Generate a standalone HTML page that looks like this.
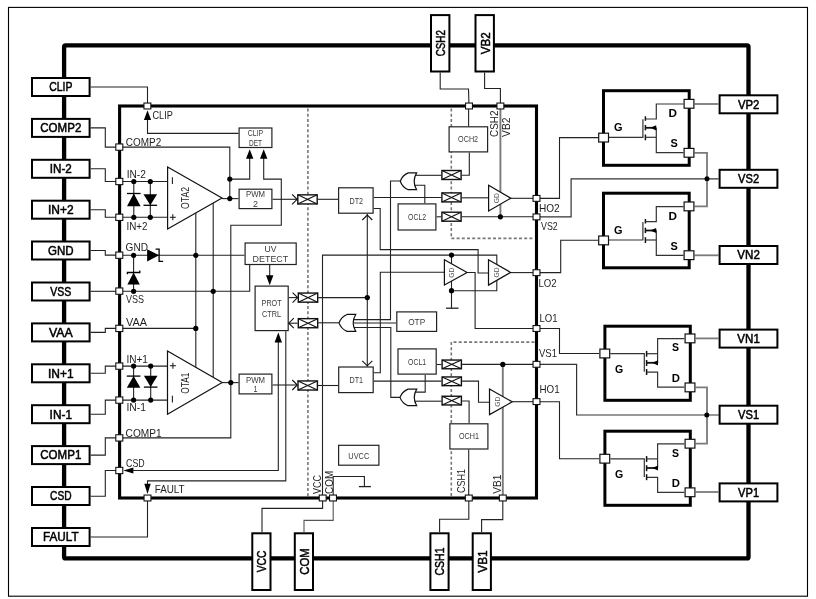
<!DOCTYPE html><html><head><meta charset="utf-8"><style>html,body{margin:0;padding:0;background:#fff;}svg{display:block;will-change:transform;}text{font-family:"Liberation Sans",sans-serif;}</style></head><body>
<svg width="816" height="599" viewBox="0 0 816 599">
<rect width="816" height="599" fill="#fff"/>
<rect x="8.5" y="7.4" width="799" height="588.8" fill="none" stroke="#000" stroke-width="1.1"/>
<rect x="64.1" y="45.4" width="684.4" height="513" fill="none" stroke="#000" stroke-width="4.3" rx="1.5"/>
<rect x="32.00" y="78.00" width="57.60" height="18.00" fill="#fff" stroke="#000" stroke-width="2" rx="0"/>
<text x="60.8" y="91.3" font-size="12.2" font-weight="normal" fill="#000" text-anchor="middle" textLength="23.2" lengthAdjust="spacingAndGlyphs" stroke="#000" stroke-width="0.5">CLIP</text>
<rect x="32.00" y="118.90" width="57.60" height="18.00" fill="#fff" stroke="#000" stroke-width="2" rx="0"/>
<text x="60.8" y="132.20000000000002" font-size="12.2" font-weight="normal" fill="#000" text-anchor="middle" textLength="41" lengthAdjust="spacingAndGlyphs" stroke="#000" stroke-width="0.5">COMP2</text>
<rect x="32.00" y="159.80" width="57.60" height="18.00" fill="#fff" stroke="#000" stroke-width="2" rx="0"/>
<text x="60.8" y="173.10000000000002" font-size="12.2" font-weight="normal" fill="#000" text-anchor="middle" textLength="22" lengthAdjust="spacingAndGlyphs" stroke="#000" stroke-width="0.5">IN-2</text>
<rect x="32.00" y="200.70" width="57.60" height="18.00" fill="#fff" stroke="#000" stroke-width="2" rx="0"/>
<text x="60.8" y="214.0" font-size="12.2" font-weight="normal" fill="#000" text-anchor="middle" textLength="25.6" lengthAdjust="spacingAndGlyphs" stroke="#000" stroke-width="0.5">IN+2</text>
<rect x="32.00" y="241.50" width="57.60" height="18.00" fill="#fff" stroke="#000" stroke-width="2" rx="0"/>
<text x="60.8" y="254.8" font-size="12.2" font-weight="normal" fill="#000" text-anchor="middle" textLength="25.6" lengthAdjust="spacingAndGlyphs" stroke="#000" stroke-width="0.5">GND</text>
<rect x="32.00" y="282.50" width="57.60" height="18.00" fill="#fff" stroke="#000" stroke-width="2" rx="0"/>
<text x="60.8" y="295.8" font-size="12.2" font-weight="normal" fill="#000" text-anchor="middle" textLength="21" lengthAdjust="spacingAndGlyphs" stroke="#000" stroke-width="0.5">VSS</text>
<rect x="32.00" y="323.40" width="57.60" height="18.00" fill="#fff" stroke="#000" stroke-width="2" rx="0"/>
<text x="60.8" y="336.7" font-size="12.2" font-weight="normal" fill="#000" text-anchor="middle" textLength="23.7" lengthAdjust="spacingAndGlyphs" stroke="#000" stroke-width="0.5">VAA</text>
<rect x="32.00" y="364.30" width="57.60" height="18.00" fill="#fff" stroke="#000" stroke-width="2" rx="0"/>
<text x="60.8" y="377.6" font-size="12.2" font-weight="normal" fill="#000" text-anchor="middle" textLength="25.6" lengthAdjust="spacingAndGlyphs" stroke="#000" stroke-width="0.5">IN+1</text>
<rect x="32.00" y="405.20" width="57.60" height="18.00" fill="#fff" stroke="#000" stroke-width="2" rx="0"/>
<text x="60.8" y="418.5" font-size="12.2" font-weight="normal" fill="#000" text-anchor="middle" textLength="22.4" lengthAdjust="spacingAndGlyphs" stroke="#000" stroke-width="0.5">IN-1</text>
<rect x="32.00" y="446.10" width="57.60" height="18.00" fill="#fff" stroke="#000" stroke-width="2" rx="0"/>
<text x="60.8" y="459.40000000000003" font-size="12.2" font-weight="normal" fill="#000" text-anchor="middle" textLength="41" lengthAdjust="spacingAndGlyphs" stroke="#000" stroke-width="0.5">COMP1</text>
<rect x="32.00" y="487.00" width="57.60" height="18.00" fill="#fff" stroke="#000" stroke-width="2" rx="0"/>
<text x="60.8" y="500.3" font-size="12.2" font-weight="normal" fill="#000" text-anchor="middle" textLength="21.5" lengthAdjust="spacingAndGlyphs" stroke="#000" stroke-width="0.5">CSD</text>
<rect x="32.00" y="528.00" width="57.60" height="18.00" fill="#fff" stroke="#000" stroke-width="2" rx="0"/>
<text x="60.8" y="541.3" font-size="12.2" font-weight="normal" fill="#000" text-anchor="middle" textLength="35.7" lengthAdjust="spacingAndGlyphs" stroke="#000" stroke-width="0.5">FAULT</text>
<rect x="719.60" y="95.30" width="57.80" height="18.00" fill="#fff" stroke="#000" stroke-width="2" rx="0"/>
<text x="748.6" y="108.6" font-size="12.2" font-weight="normal" fill="#000" text-anchor="middle" textLength="21.4" lengthAdjust="spacingAndGlyphs" stroke="#000" stroke-width="0.5">VP2</text>
<rect x="719.60" y="169.80" width="57.80" height="18.00" fill="#fff" stroke="#000" stroke-width="2" rx="0"/>
<text x="748.6" y="183.10000000000002" font-size="12.2" font-weight="normal" fill="#000" text-anchor="middle" textLength="21" lengthAdjust="spacingAndGlyphs" stroke="#000" stroke-width="0.5">VS2</text>
<rect x="719.60" y="246.00" width="57.80" height="18.00" fill="#fff" stroke="#000" stroke-width="2" rx="0"/>
<text x="748.6" y="259.3" font-size="12.2" font-weight="normal" fill="#000" text-anchor="middle" textLength="22.5" lengthAdjust="spacingAndGlyphs" stroke="#000" stroke-width="0.5">VN2</text>
<rect x="719.60" y="329.60" width="57.80" height="18.00" fill="#fff" stroke="#000" stroke-width="2" rx="0"/>
<text x="748.6" y="342.90000000000003" font-size="12.2" font-weight="normal" fill="#000" text-anchor="middle" textLength="22.5" lengthAdjust="spacingAndGlyphs" stroke="#000" stroke-width="0.5">VN1</text>
<rect x="719.60" y="405.70" width="57.80" height="18.00" fill="#fff" stroke="#000" stroke-width="2" rx="0"/>
<text x="748.6" y="419.0" font-size="12.2" font-weight="normal" fill="#000" text-anchor="middle" textLength="21" lengthAdjust="spacingAndGlyphs" stroke="#000" stroke-width="0.5">VS1</text>
<rect x="719.60" y="483.40" width="57.80" height="18.00" fill="#fff" stroke="#000" stroke-width="2" rx="0"/>
<text x="748.6" y="496.7" font-size="12.2" font-weight="normal" fill="#000" text-anchor="middle" textLength="21" lengthAdjust="spacingAndGlyphs" stroke="#000" stroke-width="0.5">VP1</text>
<rect x="431.00" y="15.10" width="18.40" height="56.40" fill="#fff" stroke="#000" stroke-width="2" rx="0"/>
<text transform="translate(445.09999999999997,43.2) rotate(-90)" font-size="13.2" font-weight="normal" fill="#000" text-anchor="middle" textLength="26.2" lengthAdjust="spacingAndGlyphs" stroke="#000" stroke-width="0.5">CSH2</text>
<rect x="475.50" y="15.10" width="18.40" height="56.40" fill="#fff" stroke="#000" stroke-width="2" rx="0"/>
<text transform="translate(489.59999999999997,43.2) rotate(-90)" font-size="13.2" font-weight="normal" fill="#000" text-anchor="middle" textLength="22" lengthAdjust="spacingAndGlyphs" stroke="#000" stroke-width="0.5">VB2</text>
<rect x="252.30" y="533.30" width="18.20" height="56.70" fill="#fff" stroke="#000" stroke-width="2" rx="0"/>
<text transform="translate(266.29999999999995,561.5) rotate(-90)" font-size="13.2" font-weight="normal" fill="#000" text-anchor="middle" textLength="21.7" lengthAdjust="spacingAndGlyphs" stroke="#000" stroke-width="0.5">VCC</text>
<rect x="294.80" y="533.30" width="18.20" height="56.70" fill="#fff" stroke="#000" stroke-width="2" rx="0"/>
<text transform="translate(308.79999999999995,561.5) rotate(-90)" font-size="13.2" font-weight="normal" fill="#000" text-anchor="middle" textLength="26.4" lengthAdjust="spacingAndGlyphs" stroke="#000" stroke-width="0.5">COM</text>
<rect x="430.40" y="533.30" width="18.20" height="56.70" fill="#fff" stroke="#000" stroke-width="2" rx="0"/>
<text transform="translate(444.4,561.5) rotate(-90)" font-size="13.2" font-weight="normal" fill="#000" text-anchor="middle" textLength="28" lengthAdjust="spacingAndGlyphs" stroke="#000" stroke-width="0.5">CSH1</text>
<rect x="472.70" y="533.30" width="18.20" height="56.70" fill="#fff" stroke="#000" stroke-width="2" rx="0"/>
<text transform="translate(486.7,561.5) rotate(-90)" font-size="13.2" font-weight="normal" fill="#000" text-anchor="middle" textLength="22.3" lengthAdjust="spacingAndGlyphs" stroke="#000" stroke-width="0.5">VB1</text>
<path d="M90.6,87 L147.5,87 L147.5,106" fill="none" stroke="#222" stroke-width="1.1" />
<path d="M90.6,127.9 L105.3,127.9 L105.3,147.1 L119.5,147.1" fill="none" stroke="#222" stroke-width="1.1" />
<path d="M90.6,168.8 L105.3,168.8 L105.3,181.5 L119.5,181.5" fill="none" stroke="#222" stroke-width="1.1" />
<path d="M90.6,209.7 L105.3,209.7 L105.3,217.3 L119.5,217.3" fill="none" stroke="#222" stroke-width="1.1" />
<path d="M90.6,250.5 L105.3,250.5 L105.3,255.1 L119.5,255.1" fill="none" stroke="#222" stroke-width="1.1" />
<path d="M90.6,291.3 L119.5,291.3" fill="none" stroke="#222" stroke-width="1.1" />
<path d="M90.6,332.4 L105.3,332.4 L105.3,328.4 L119.5,328.4" fill="none" stroke="#222" stroke-width="1.1" />
<path d="M90.6,373.3 L105.3,373.3 L105.3,366.1 L119.5,366.1" fill="none" stroke="#222" stroke-width="1.1" />
<path d="M90.6,414.2 L105.3,414.2 L105.3,400.1 L119.5,400.1" fill="none" stroke="#222" stroke-width="1.1" />
<path d="M90.6,455.1 L105.3,455.1 L105.3,437.9 L119.5,437.9" fill="none" stroke="#222" stroke-width="1.1" />
<path d="M90.6,496.2 L105.3,496.2 L105.3,470.5 L119.5,470.5" fill="none" stroke="#222" stroke-width="1.1" />
<path d="M90.6,537 L147.5,537 L147.5,498" fill="none" stroke="#222" stroke-width="1.1" />
<path d="M440.2,72.5 L440.2,89 L468.5,89 L469,106" fill="none" stroke="#222" stroke-width="1.1" />
<path d="M484.6,72.5 L484.6,88.5 L500.4,88.5 L500.4,106" fill="none" stroke="#222" stroke-width="1.1" />
<path d="M322.6,498 L322.6,508.4 L262,508.4 L262,532.3" fill="none" stroke="#222" stroke-width="1.1" />
<path d="M333.2,498 L333.2,520.4 L304,520.4 L304,532.3" fill="none" stroke="#555" stroke-width="1.1" />
<path d="M468.8,498 L468.8,519.3 L439.6,519.3 L439.6,532.3" fill="none" stroke="#222" stroke-width="1.1" />
<path d="M502.8,498 L502.8,519.6 L481.6,519.6 L481.6,532.3" fill="none" stroke="#222" stroke-width="1.1" />
<path d="M307.9,108.5 L307.9,496.5" fill="none" stroke="#777" stroke-width="1.6" stroke-dasharray="3 2.2"/>
<path d="M451.3,108.5 L451.3,238.4 L534.5,238.4" fill="none" stroke="#777" stroke-width="1.6" stroke-dasharray="3 2.2"/>
<path d="M534.5,342.1 L451.3,342.1 L451.3,496.5" fill="none" stroke="#777" stroke-width="1.6" stroke-dasharray="3 2.2"/>
<rect x="119.6" y="106" width="416.9" height="392" fill="none" stroke="#000" stroke-width="3.1"/>
<path d="M147.5,118 L147.5,133.4 L238.5,133.4" fill="none" stroke="#222" stroke-width="1.1" />
<path d="M147.5,110.3 L143.9,120 L151.1,120 Z" fill="#000"/>
<path d="M119.5,147.1 L229.8,147.1 L229.8,198.6" fill="none" stroke="#222" stroke-width="1.1" />
<path d="M229.8,179.1 L249.7,179.1 L249.7,157" fill="none" stroke="#222" stroke-width="1.1" />
<path d="M249.7,149.2 L246,158.7 L253.4,158.7 Z" fill="#000"/>
<path d="M119.5,437.9 L230.8,437.9 L230.8,225.2 L281.3,225.2 L281.3,179.1 L263.7,179.1 L263.7,157" fill="none" stroke="#222" stroke-width="1.1" />
<path d="M263.7,149.2 L260,158.7 L267.4,158.7 Z" fill="#000"/>
<path d="M119.5,181.5 L167.6,181.5" fill="none" stroke="#222" stroke-width="1.1" />
<path d="M119.5,217.3 L167.6,217.3" fill="none" stroke="#222" stroke-width="1.1" />
<path d="M133.8,181.5 L133.8,217.3" fill="none" stroke="#222" stroke-width="1.1" />
<path d="M150.3,181.5 L150.3,217.3" fill="none" stroke="#222" stroke-width="1.1" />
<path d="M222,198.6 L238.5,198.6" fill="none" stroke="#222" stroke-width="1.1" />
<path d="M195.8,205 L195.8,372" fill="none" stroke="#222" stroke-width="1.1" />
<path d="M213.2,198 L213.2,382" fill="none" stroke="#222" stroke-width="1.1" />
<path d="M119.5,255.3 L244.5,255.3" fill="none" stroke="#222" stroke-width="1.1" />
<path d="M119.5,291.3 L249.7,291.3 L249.7,265.1" fill="none" stroke="#222" stroke-width="1.1" />
<path d="M133.6,255.3 L133.6,291.3" fill="none" stroke="#222" stroke-width="1.1" />
<path d="M119.5,328.4 L195.8,328.4" fill="none" stroke="#222" stroke-width="1.1" />
<path d="M119.5,366.1 L167.5,366.1" fill="none" stroke="#222" stroke-width="1.1" />
<path d="M119.5,400.1 L167.5,400.1" fill="none" stroke="#222" stroke-width="1.1" />
<path d="M133.6,366.1 L133.6,400.1" fill="none" stroke="#222" stroke-width="1.1" />
<path d="M150.7,366.1 L150.7,400.1" fill="none" stroke="#222" stroke-width="1.1" />
<path d="M222.2,382.6 L238.5,382.6" fill="none" stroke="#222" stroke-width="1.1" />
<path d="M272.5,385 L297.1,385" fill="none" stroke="#222" stroke-width="1.1" />
<path d="M317.9,385.5 L338.1,385.5" fill="none" stroke="#222" stroke-width="1.1" />
<path d="M272.5,199.3 L297.1,199.3" fill="none" stroke="#222" stroke-width="1.1" />
<path d="M317.9,199.3 L338,199.3" fill="none" stroke="#222" stroke-width="1.1" />
<path d="M131,470.5 L278.3,470.5 L278.3,340" fill="none" stroke="#222" stroke-width="1.1" />
<path d="M123.3,470.5 L133.4,467.4 L133.4,473.6 Z" fill="#000"/>
<path d="M278.3,332.6 L274.6,342.4 L282,342.4 Z" fill="#000"/>
<path d="M285.8,331.2 L285.8,480.9 L147.5,480.9 L147.5,486" fill="none" stroke="#222" stroke-width="1.1" />
<path d="M147.5,494 L144.3,483.7 L150.7,483.7 Z" fill="#000"/>
<path d="M269.7,265.1 L269.7,277" fill="none" stroke="#222" stroke-width="1.1" />
<path d="M269.7,285.3 L266,275.2 L273.4,275.2 Z" fill="#000"/>
<path d="M288.8,297.6 L297.6,297.6" fill="none" stroke="#222" stroke-width="1.1" />
<path d="M318.2,297.6 L367.3,297.6" fill="none" stroke="#222" stroke-width="1.1" />
<path d="M288.8,323.2 L297.6,323.2" fill="none" stroke="#222" stroke-width="1.1" />
<path d="M318.2,322.8 L339,322.8" fill="none" stroke="#222" stroke-width="1.1" />
<path d="M367.3,213.8 L367.3,366.4" fill="none" stroke="#222" stroke-width="1.1" />
<path d="M373.7,197.5 L441.2,197.5" fill="none" stroke="#222" stroke-width="1.1" />
<path d="M373.7,208.5 L380.2,208.5 L380.2,249.6 L478.1,249.6 L478.1,273 L488.5,273" fill="none" stroke="#222" stroke-width="1.1" />
<path d="M373.6,372.7 L380.3,372.7 L380.3,272.3 L444.4,272.3" fill="none" stroke="#222" stroke-width="1.1" />
<path d="M373.8,381.1 L441.4,381.1" fill="none" stroke="#222" stroke-width="1.1" />
<path d="M322.5,498 L322.5,255.1 L496.8,255.1 L496.8,270" fill="none" stroke="#222" stroke-width="1.1" />
<path d="M451.5,255.1 L451.5,270" fill="none" stroke="#222" stroke-width="1.1" />
<path d="M333.2,498 L333.2,476.5 L364.4,476.5 L364.4,486.6" fill="none" stroke="#222" stroke-width="1.1" />
<path d="M358.9,486.6 L370.9,486.6" fill="none" stroke="#222" stroke-width="1.3" />
<path d="M451.5,275 L451.5,308.2" fill="none" stroke="#222" stroke-width="1.1" />
<path d="M446,308.2 L458.5,308.2" fill="none" stroke="#222" stroke-width="1.3" />
<path d="M451.5,290.7 L496.8,290.7 L496.8,275" fill="none" stroke="#222" stroke-width="1.1" />
<path d="M467.1,272.5 L475.1,272.5 L475.1,328.5 L536.5,328.5" fill="none" stroke="#222" stroke-width="1.1" />
<path d="M510.6,272.6 L536.5,272.6" fill="none" stroke="#222" stroke-width="1.1" />
<path d="M468.6,106 L468.6,126.2" fill="none" stroke="#222" stroke-width="1.1" />
<path d="M469.3,152.5 L469.3,175.2 L461.8,175.2" fill="none" stroke="#222" stroke-width="1.1" />
<path d="M441.2,175.3 L415,175.3" fill="none" stroke="#222" stroke-width="1.1" />
<path d="M414,185.3 L424.8,185.3 L424.8,203.3" fill="none" stroke="#222" stroke-width="1.1" />
<path d="M400.6,181 L390.5,181 L390.5,319.6 L353.5,319.6" fill="none" stroke="#222" stroke-width="1.1" />
<path d="M436.5,216.8 L441.2,216.8" fill="none" stroke="#222" stroke-width="1.1" />
<path d="M461.8,216.8 L536.5,216.8" fill="none" stroke="#222" stroke-width="1.1" />
<path d="M461.8,197.8 L488.6,197.8" fill="none" stroke="#222" stroke-width="1.1" />
<path d="M510.8,198.3 L536.5,198.3" fill="none" stroke="#222" stroke-width="1.1" />
<path d="M500.4,106 L500.4,216.8" fill="none" stroke="#7a7a7a" stroke-width="1.9" />
<path d="M396.2,323 L353.5,323" fill="none" stroke="#222" stroke-width="1.1" />
<path d="M353.5,327.5 L390.8,327.5 L390.8,397.4 L400,397.4" fill="none" stroke="#222" stroke-width="1.1" />
<path d="M425.2,374.7 L425.2,392.1 L414.5,392.1" fill="none" stroke="#222" stroke-width="1.1" />
<path d="M436.8,364.5 L441.4,364.5" fill="none" stroke="#222" stroke-width="1.1" />
<path d="M462.1,364.4 L536.5,364.4" fill="none" stroke="#222" stroke-width="1.1" />
<path d="M502.8,364.4 L502.8,498" fill="none" stroke="#7a7a7a" stroke-width="1.9" />
<path d="M462.1,381.1 L478.5,381.1 L478.5,402.2 L489.5,402.2" fill="none" stroke="#222" stroke-width="1.1" />
<path d="M512.2,401.7 L536.5,401.7" fill="none" stroke="#222" stroke-width="1.1" />
<path d="M414.1,401.2 L441.4,401.2" fill="none" stroke="#222" stroke-width="1.1" />
<path d="M462.1,401 L469.1,401 L469.1,423.2" fill="none" stroke="#222" stroke-width="1.1" />
<path d="M468.7,449.6 L468.7,498" fill="none" stroke="#222" stroke-width="1.1" />
<path d="M536.5,198.4 L559.5,198.4 L559.5,137.6 L598,137.6" fill="none" stroke="#222" stroke-width="1.1" />
<path d="M536.5,216.8 L571.1,216.8 L571.1,178.9 L718.6,178.9" fill="none" stroke="#333" stroke-width="1.2" />
<path d="M536.5,272.6 L560.7,272.6 L560.7,240.3 L598,240.3" fill="none" stroke="#222" stroke-width="1.1" />
<path d="M536.5,328.5 L559.5,328.5 L559.5,353.5 L599.2,353.5" fill="none" stroke="#222" stroke-width="1.1" />
<path d="M536.5,364.4 L576.6,364.4 L576.6,415 L719,415" fill="none" stroke="#333" stroke-width="1.2" />
<path d="M536.5,401.7 L559.5,401.7 L559.5,458.7 L599.2,458.7" fill="none" stroke="#222" stroke-width="1.1" />
<path d="M694.5,104 L718.6,104" fill="none" stroke="#7a7a7a" stroke-width="1.8" />
<path d="M694.5,152.8 L707,152.8 L707,178.8" fill="none" stroke="#7a7a7a" stroke-width="1.8" />
<path d="M694.5,206.4 L707,206.4 L707,178.8" fill="none" stroke="#7a7a7a" stroke-width="1.8" />
<path d="M694.5,255.3 L719,255.3" fill="none" stroke="#7a7a7a" stroke-width="1.8" />
<path d="M695.7,338.4 L719,338.4" fill="none" stroke="#7a7a7a" stroke-width="1.8" />
<path d="M695.7,387.4 L707,387.4 L707,415" fill="none" stroke="#7a7a7a" stroke-width="1.8" />
<path d="M695.7,443.7 L707,443.7 L707,415" fill="none" stroke="#7a7a7a" stroke-width="1.8" />
<path d="M695.7,492 L719,492" fill="none" stroke="#7a7a7a" stroke-width="1.8" />
<circle cx="707" cy="178.8" r="2.5" fill="#000"/>
<circle cx="706.8" cy="415" r="2.5" fill="#000"/>
<rect x="239.10" y="128.00" width="32.80" height="19.50" fill="#fff" stroke="#222" stroke-width="1.2" rx="0"/>
<rect x="239.10" y="189.20" width="32.80" height="19.40" fill="#fff" stroke="#222" stroke-width="1.2" rx="0"/>
<rect x="245.10" y="243.00" width="51.10" height="21.50" fill="#fff" stroke="#222" stroke-width="1.2" rx="0"/>
<rect x="255.10" y="286.10" width="33.10" height="44.50" fill="#fff" stroke="#222" stroke-width="1.2" rx="0"/>
<rect x="239.10" y="374.10" width="32.80" height="19.80" fill="#fff" stroke="#222" stroke-width="1.2" rx="0"/>
<rect x="338.60" y="187.80" width="34.50" height="25.40" fill="#fff" stroke="#222" stroke-width="1.2" rx="0"/>
<rect x="338.70" y="367.00" width="34.50" height="25.60" fill="#fff" stroke="#222" stroke-width="1.2" rx="0"/>
<rect x="338.60" y="445.30" width="40.30" height="19.90" fill="#fff" stroke="#222" stroke-width="1.2" rx="0"/>
<rect x="449.10" y="126.80" width="38.50" height="25.10" fill="#fff" stroke="#222" stroke-width="1.2" rx="0"/>
<rect x="398.10" y="203.90" width="37.80" height="26.10" fill="#fff" stroke="#222" stroke-width="1.2" rx="0"/>
<rect x="396.80" y="311.90" width="39.80" height="19.50" fill="#fff" stroke="#222" stroke-width="1.2" rx="0"/>
<rect x="398.00" y="348.90" width="38.20" height="25.20" fill="#fff" stroke="#222" stroke-width="1.2" rx="0"/>
<rect x="449.90" y="423.80" width="38.00" height="25.20" fill="#fff" stroke="#222" stroke-width="1.2" rx="0"/>
<rect x="297.80" y="194.85" width="19.40" height="9.10" fill="#fff" stroke="#111" stroke-width="1.4" rx="0"/>
<path d="M297.8,194.85 L317.20000000000005,203.95000000000002 M297.8,203.95000000000002 L317.20000000000005,194.85" stroke="#111" stroke-width="1.1"/>
<rect x="298.30" y="293.05" width="19.40" height="9.10" fill="#fff" stroke="#111" stroke-width="1.4" rx="0"/>
<path d="M298.3,293.05 L317.70000000000005,302.15000000000003 M298.3,302.15000000000003 L317.70000000000005,293.05" stroke="#111" stroke-width="1.1"/>
<rect x="298.30" y="318.65" width="19.40" height="9.10" fill="#fff" stroke="#111" stroke-width="1.4" rx="0"/>
<path d="M298.3,318.65 L317.70000000000005,327.75 M298.3,327.75 L317.70000000000005,318.65" stroke="#111" stroke-width="1.1"/>
<rect x="298.00" y="380.95" width="19.40" height="9.10" fill="#fff" stroke="#111" stroke-width="1.4" rx="0"/>
<path d="M298.0,380.95 L317.40000000000003,390.05 M298.0,390.05 L317.40000000000003,380.95" stroke="#111" stroke-width="1.1"/>
<rect x="441.90" y="170.50" width="19.20" height="9.00" fill="#fff" stroke="#111" stroke-width="1.4" rx="0"/>
<path d="M441.9,170.5 L461.1,179.5 M441.9,179.5 L461.1,170.5" stroke="#111" stroke-width="1.1"/>
<rect x="441.90" y="192.90" width="19.20" height="9.00" fill="#fff" stroke="#111" stroke-width="1.4" rx="0"/>
<path d="M441.9,192.9 L461.1,201.9 M441.9,201.9 L461.1,192.9" stroke="#111" stroke-width="1.1"/>
<rect x="441.90" y="212.20" width="19.20" height="9.00" fill="#fff" stroke="#111" stroke-width="1.4" rx="0"/>
<path d="M441.9,212.2 L461.1,221.2 M441.9,221.2 L461.1,212.2" stroke="#111" stroke-width="1.1"/>
<rect x="442.10" y="360.05" width="19.30" height="8.70" fill="#fff" stroke="#111" stroke-width="1.4" rx="0"/>
<path d="M442.09999999999997,360.04999999999995 L461.4,368.75 M442.09999999999997,368.75 L461.4,360.04999999999995" stroke="#111" stroke-width="1.1"/>
<rect x="442.10" y="376.95" width="19.30" height="8.70" fill="#fff" stroke="#111" stroke-width="1.4" rx="0"/>
<path d="M442.09999999999997,376.95 L461.4,385.65000000000003 M442.09999999999997,385.65000000000003 L461.4,376.95" stroke="#111" stroke-width="1.1"/>
<rect x="442.10" y="396.25" width="19.30" height="8.70" fill="#fff" stroke="#111" stroke-width="1.4" rx="0"/>
<path d="M442.09999999999997,396.25 L461.4,404.95000000000005 M442.09999999999997,404.95000000000005 L461.4,396.25" stroke="#111" stroke-width="1.1"/>
<path d="M292.1,194.3 L297.1,199.3 L292.1,204.3" fill="none" stroke="#111" stroke-width="1.1"/>
<path d="M292.6,292.6 L297.6,297.6 L292.6,302.6" fill="none" stroke="#111" stroke-width="1.1"/>
<path d="M293.8,318.2 L288.8,323.2 L293.8,328.2" fill="none" stroke="#111" stroke-width="1.1"/>
<path d="M292.3,380 L297.3,385 L292.3,390" fill="none" stroke="#111" stroke-width="1.1"/>
<path d="M362.3,220.0 L367.3,215.0 L372.3,220.0" fill="none" stroke="#111" stroke-width="1.1"/>
<path d="M362.3,360.8 L367.3,365.8 L372.3,360.8" fill="none" stroke="#111" stroke-width="1.1"/>
<path d="M416.6,172.9 L408.124,172.9 Q402.25600000000003,175.42000000000002 400.3,181.3 Q402.25600000000003,187.18 408.124,189.70000000000002 L416.6,189.70000000000002 Q411.71000000000004,181.3 416.6,172.9 Z" fill="#fff" stroke="#111" stroke-width="1.2"/>
<path d="M355.7,314.45 L347.016,314.45 Q341.004,316.985 339,322.9 Q341.004,328.81499999999994 347.016,331.34999999999997 L355.7,331.34999999999997 Q350.69,322.9 355.7,314.45 Z" fill="#fff" stroke="#111" stroke-width="1.2"/>
<path d="M416.7,389.09999999999997 L408.016,389.09999999999997 Q402.004,391.59 400,397.4 Q402.004,403.21 408.016,405.7 L416.7,405.7 Q411.69,397.4 416.7,389.09999999999997 Z" fill="#fff" stroke="#111" stroke-width="1.2"/>
<path d="M167.6,167 L222,198.0 L167.6,229 Z" fill="#fff" stroke="#111" stroke-width="1.2"/>
<path d="M167.5,351 L222.2,382.6 L167.5,414.2 Z" fill="#fff" stroke="#111" stroke-width="1.2"/>
<path d="M488.6,185.3 L510.8,198.15 L488.6,211 Z" fill="#fff" stroke="#111" stroke-width="1.2"/>
<path d="M444.4,259.7 L467.1,272.4 L444.4,285.1 Z" fill="#fff" stroke="#111" stroke-width="1.2"/>
<path d="M488.5,259.7 L510.6,272.4 L488.5,285.1 Z" fill="#fff" stroke="#111" stroke-width="1.2"/>
<path d="M489.5,389.1 L512.2,401.85 L489.5,414.6 Z" fill="#fff" stroke="#111" stroke-width="1.2"/>
<path d="M133.8,193.5 L127.00000000000001,206.2 L140.60000000000002,206.2 Z" fill="#000"/>
<path d="M127.00000000000001,193.5 L140.60000000000002,193.5" fill="none" stroke="#000" stroke-width="1.3" />
<path d="M150.3,205.3 L143.5,194.3 L157.10000000000002,194.3 Z" fill="#000"/>
<path d="M143.5,205.3 L157.10000000000002,205.3" fill="none" stroke="#000" stroke-width="1.3" />
<path d="M133.6,376.1 L126.8,387.7 L140.4,387.7 Z" fill="#000"/>
<path d="M126.8,376.1 L140.4,376.1" fill="none" stroke="#000" stroke-width="1.3" />
<path d="M150.7,387.1 L143.89999999999998,375.7 L157.5,375.7 Z" fill="#000"/>
<path d="M143.89999999999998,387.1 L157.5,387.1" fill="none" stroke="#000" stroke-width="1.3" />
<path d="M133.6,272.5 L127.4,284.6 L139.8,284.6 Z" fill="#000"/>
<path d="M127.4,274.3 L127.4,272.5 L139.8,272.5 L139.8,270.5" fill="none" stroke="#000" stroke-width="1.3" />
<path d="M159.1,255.3 L147.1,249.2 L147.1,261.4 Z" fill="#000"/>
<path d="M155.6,249.2 L159.1,249.2 L159.1,261.4 L163.1,261.4" fill="none" stroke="#000" stroke-width="1.3" />
<circle cx="133.8" cy="181.5" r="2.6" fill="#000"/>
<circle cx="150.3" cy="181.5" r="2.6" fill="#000"/>
<circle cx="133.8" cy="217.3" r="2.6" fill="#000"/>
<circle cx="150.3" cy="217.3" r="2.6" fill="#000"/>
<circle cx="229.8" cy="179.1" r="2.6" fill="#000"/>
<circle cx="229.8" cy="198.6" r="2.6" fill="#000"/>
<circle cx="133.6" cy="255.3" r="2.6" fill="#000"/>
<circle cx="195.8" cy="255.3" r="2.6" fill="#000"/>
<circle cx="133.6" cy="291.3" r="2.6" fill="#000"/>
<circle cx="213.2" cy="291.3" r="2.6" fill="#000"/>
<circle cx="195.8" cy="328.4" r="2.6" fill="#000"/>
<circle cx="133.6" cy="366.1" r="2.6" fill="#000"/>
<circle cx="150.7" cy="366.1" r="2.6" fill="#000"/>
<circle cx="133.6" cy="400.1" r="2.6" fill="#000"/>
<circle cx="150.7" cy="400.1" r="2.6" fill="#000"/>
<circle cx="230.8" cy="382.6" r="2.6" fill="#000"/>
<circle cx="367.3" cy="297.6" r="2.6" fill="#000"/>
<circle cx="451.5" cy="255.1" r="2.6" fill="#000"/>
<circle cx="451.5" cy="290.7" r="2.6" fill="#000"/>
<circle cx="500.4" cy="216.8" r="2.6" fill="#000"/>
<circle cx="502.8" cy="364.4" r="2.6" fill="#000"/>
<rect x="603.50" y="90.70" width="85.70" height="74.60" fill="none" stroke="#000" stroke-width="3" rx="0"/>
<path d="M609,137.3 L642.9,137.3 L642.9,119.3" fill="none" stroke="#333" stroke-width="1.2" />
<path d="M645.4,116.3 L645.4,120.8" fill="none" stroke="#111" stroke-width="1.5" />
<path d="M645.4,125 L645.4,130.4" fill="none" stroke="#111" stroke-width="1.5" />
<path d="M645.4,134.5 L645.4,140.3" fill="none" stroke="#111" stroke-width="1.5" />
<path d="M645.4,119 L656.3,119 L656.3,104 L683.5,104" fill="none" stroke="#333" stroke-width="1.2" />
<path d="M645.4,127.8 L656.3,127.8" fill="none" stroke="#111" stroke-width="1.8" />
<path d="M645.4,137.3 L656.3,137.3" fill="none" stroke="#333" stroke-width="1.2" />
<path d="M656.3,127.8 L656.3,152.6 L683.5,152.6" fill="none" stroke="#333" stroke-width="1.2" />
<path d="M650.3,127.8 L656.2,125.2 L656.2,130.4 Z" fill="#000"/>
<text x="668.4" y="116.8" font-size="10" font-weight="bold" fill="#000" text-anchor="start" textLength="8.5" lengthAdjust="spacingAndGlyphs" >D</text>
<text x="670.6" y="147.3" font-size="10" font-weight="bold" fill="#000" text-anchor="start" textLength="7.3" lengthAdjust="spacingAndGlyphs" >S</text>
<text x="614.1" y="130.9" font-size="10" font-weight="bold" fill="#000" text-anchor="start" textLength="8.5" lengthAdjust="spacingAndGlyphs" >G</text>
<rect x="603.50" y="193.20" width="85.70" height="74.60" fill="none" stroke="#000" stroke-width="3" rx="0"/>
<path d="M609,240.0 L642.9,240.0 L642.9,222.0" fill="none" stroke="#333" stroke-width="1.2" />
<path d="M645.4,219.0 L645.4,223.5" fill="none" stroke="#111" stroke-width="1.5" />
<path d="M645.4,227.7 L645.4,233.10000000000002" fill="none" stroke="#111" stroke-width="1.5" />
<path d="M645.4,237.2 L645.4,243.0" fill="none" stroke="#111" stroke-width="1.5" />
<path d="M645.4,221.7 L656.3,221.7 L656.3,206.7 L683.5,206.7" fill="none" stroke="#333" stroke-width="1.2" />
<path d="M645.4,230.5 L656.3,230.5" fill="none" stroke="#111" stroke-width="1.8" />
<path d="M645.4,240.0 L656.3,240.0" fill="none" stroke="#333" stroke-width="1.2" />
<path d="M656.3,230.5 L656.3,255.3 L683.5,255.3" fill="none" stroke="#333" stroke-width="1.2" />
<path d="M650.3,230.5 L656.2,227.9 L656.2,233.10000000000002 Z" fill="#000"/>
<text x="668.4" y="219.5" font-size="10" font-weight="bold" fill="#000" text-anchor="start" textLength="8.5" lengthAdjust="spacingAndGlyphs" >D</text>
<text x="670.6" y="250.0" font-size="10" font-weight="bold" fill="#000" text-anchor="start" textLength="7.3" lengthAdjust="spacingAndGlyphs" >S</text>
<text x="614.1" y="233.60000000000002" font-size="10" font-weight="bold" fill="#000" text-anchor="start" textLength="8.5" lengthAdjust="spacingAndGlyphs" >G</text>
<rect x="604.90" y="326.20" width="85.40" height="74.10" fill="none" stroke="#000" stroke-width="3" rx="0"/>
<path d="M610.4,353.7 L644.3,353.7 L644.3,371.8" fill="none" stroke="#333" stroke-width="1.2" />
<path d="M646.6,350.9 L646.6,356.7" fill="none" stroke="#111" stroke-width="1.5" />
<path d="M646.6,360 L646.6,366" fill="none" stroke="#111" stroke-width="1.5" />
<path d="M646.6,369 L646.6,375" fill="none" stroke="#111" stroke-width="1.5" />
<path d="M646.8,353.7 L657.6,353.7" fill="none" stroke="#333" stroke-width="1.2" />
<path d="M684.3,338.7 L657.6,338.7 L657.6,363" fill="none" stroke="#333" stroke-width="1.2" />
<path d="M646.6,362.8 L657.6,362.8" fill="none" stroke="#111" stroke-width="1.8" />
<path d="M646.8,372.1 L657.6,372.1 L657.6,387.1 L684.3,387.1" fill="none" stroke="#333" stroke-width="1.2" />
<path d="M652.3,362.8 L658,360.2 L658,365.4 Z" fill="#000"/>
<text x="671.9" y="351.4" font-size="10" font-weight="bold" fill="#000" text-anchor="start" textLength="7.0" lengthAdjust="spacingAndGlyphs" >S</text>
<text x="671.7" y="381.8" font-size="10" font-weight="bold" fill="#000" text-anchor="start" textLength="8.2" lengthAdjust="spacingAndGlyphs" >D</text>
<text x="614.9" y="372.6" font-size="10" font-weight="bold" fill="#000" text-anchor="start" textLength="8.2" lengthAdjust="spacingAndGlyphs" >G</text>
<rect x="604.90" y="431.20" width="85.40" height="74.10" fill="none" stroke="#000" stroke-width="3" rx="0"/>
<path d="M610.4,458.9 L644.3,458.9 L644.3,477.0" fill="none" stroke="#333" stroke-width="1.2" />
<path d="M646.6,456.09999999999997 L646.6,461.9" fill="none" stroke="#111" stroke-width="1.5" />
<path d="M646.6,465.2 L646.6,471.2" fill="none" stroke="#111" stroke-width="1.5" />
<path d="M646.6,474.2 L646.6,480.2" fill="none" stroke="#111" stroke-width="1.5" />
<path d="M646.8,458.9 L657.6,458.9" fill="none" stroke="#333" stroke-width="1.2" />
<path d="M684.3,443.9 L657.6,443.9 L657.6,468.2" fill="none" stroke="#333" stroke-width="1.2" />
<path d="M646.6,468.0 L657.6,468.0" fill="none" stroke="#111" stroke-width="1.8" />
<path d="M646.8,477.3 L657.6,477.3 L657.6,492.3 L684.3,492.3" fill="none" stroke="#333" stroke-width="1.2" />
<path d="M652.3,468.0 L658,465.4 L658,470.59999999999997 Z" fill="#000"/>
<text x="671.9" y="456.59999999999997" font-size="10" font-weight="bold" fill="#000" text-anchor="start" textLength="7.0" lengthAdjust="spacingAndGlyphs" >S</text>
<text x="671.7" y="487.0" font-size="10" font-weight="bold" fill="#000" text-anchor="start" textLength="8.2" lengthAdjust="spacingAndGlyphs" >D</text>
<text x="614.9" y="477.8" font-size="10" font-weight="bold" fill="#000" text-anchor="start" textLength="8.2" lengthAdjust="spacingAndGlyphs" >G</text>
<rect x="598.70" y="133.20" width="9.80" height="8.80" fill="#fff" stroke="#111" stroke-width="1.2" rx="0"/>
<rect x="684.10" y="99.40" width="9.80" height="8.80" fill="#fff" stroke="#111" stroke-width="1.2" rx="0"/>
<rect x="684.10" y="148.40" width="9.80" height="8.80" fill="#fff" stroke="#111" stroke-width="1.2" rx="0"/>
<rect x="598.70" y="236.00" width="9.80" height="8.80" fill="#fff" stroke="#111" stroke-width="1.2" rx="0"/>
<rect x="684.10" y="202.00" width="9.80" height="8.80" fill="#fff" stroke="#111" stroke-width="1.2" rx="0"/>
<rect x="684.10" y="250.80" width="9.80" height="8.80" fill="#fff" stroke="#111" stroke-width="1.2" rx="0"/>
<rect x="599.90" y="349.10" width="9.80" height="8.80" fill="#fff" stroke="#111" stroke-width="1.2" rx="0"/>
<rect x="685.10" y="334.00" width="9.80" height="8.80" fill="#fff" stroke="#111" stroke-width="1.2" rx="0"/>
<rect x="685.10" y="383.00" width="9.80" height="8.80" fill="#fff" stroke="#111" stroke-width="1.2" rx="0"/>
<rect x="599.90" y="454.30" width="9.80" height="8.80" fill="#fff" stroke="#111" stroke-width="1.2" rx="0"/>
<rect x="685.10" y="439.30" width="9.80" height="8.80" fill="#fff" stroke="#111" stroke-width="1.2" rx="0"/>
<rect x="685.10" y="487.90" width="9.80" height="8.80" fill="#fff" stroke="#111" stroke-width="1.2" rx="0"/>
<rect x="115.80" y="143.95" width="7.00" height="6.30" fill="#fff" stroke="#111" stroke-width="1.1" rx="0"/>
<rect x="115.80" y="178.35" width="7.00" height="6.30" fill="#fff" stroke="#111" stroke-width="1.1" rx="0"/>
<rect x="115.80" y="214.15" width="7.00" height="6.30" fill="#fff" stroke="#111" stroke-width="1.1" rx="0"/>
<rect x="115.80" y="252.05" width="7.00" height="6.30" fill="#fff" stroke="#111" stroke-width="1.1" rx="0"/>
<rect x="115.80" y="287.95" width="7.00" height="6.30" fill="#fff" stroke="#111" stroke-width="1.1" rx="0"/>
<rect x="115.80" y="325.25" width="7.00" height="6.30" fill="#fff" stroke="#111" stroke-width="1.1" rx="0"/>
<rect x="115.80" y="362.95" width="7.00" height="6.30" fill="#fff" stroke="#111" stroke-width="1.1" rx="0"/>
<rect x="115.80" y="396.95" width="7.00" height="6.30" fill="#fff" stroke="#111" stroke-width="1.1" rx="0"/>
<rect x="115.80" y="434.75" width="7.00" height="6.30" fill="#fff" stroke="#111" stroke-width="1.1" rx="0"/>
<rect x="115.80" y="467.35" width="7.00" height="6.30" fill="#fff" stroke="#111" stroke-width="1.1" rx="0"/>
<rect x="143.95" y="103.05" width="6.90" height="5.90" fill="#fff" stroke="#111" stroke-width="1.1" rx="0"/>
<rect x="465.55" y="103.05" width="6.90" height="5.90" fill="#fff" stroke="#111" stroke-width="1.1" rx="0"/>
<rect x="496.95" y="103.05" width="6.90" height="5.90" fill="#fff" stroke="#111" stroke-width="1.1" rx="0"/>
<rect x="144.05" y="495.05" width="6.90" height="5.90" fill="#fff" stroke="#111" stroke-width="1.1" rx="0"/>
<rect x="319.25" y="495.05" width="6.90" height="5.90" fill="#fff" stroke="#111" stroke-width="1.1" rx="0"/>
<rect x="329.55" y="495.05" width="6.90" height="5.90" fill="#fff" stroke="#111" stroke-width="1.1" rx="0"/>
<rect x="465.35" y="495.05" width="6.90" height="5.90" fill="#fff" stroke="#111" stroke-width="1.1" rx="0"/>
<rect x="499.35" y="495.05" width="6.90" height="5.90" fill="#fff" stroke="#111" stroke-width="1.1" rx="0"/>
<rect x="533.05" y="195.45" width="6.90" height="5.90" fill="#fff" stroke="#111" stroke-width="1.1" rx="0"/>
<rect x="533.05" y="213.95" width="6.90" height="5.90" fill="#fff" stroke="#111" stroke-width="1.1" rx="0"/>
<rect x="533.05" y="269.75" width="6.90" height="5.90" fill="#fff" stroke="#111" stroke-width="1.1" rx="0"/>
<rect x="533.05" y="325.55" width="6.90" height="5.90" fill="#fff" stroke="#111" stroke-width="1.1" rx="0"/>
<rect x="533.05" y="361.35" width="6.90" height="5.90" fill="#fff" stroke="#111" stroke-width="1.1" rx="0"/>
<rect x="533.05" y="398.65" width="6.90" height="5.90" fill="#fff" stroke="#111" stroke-width="1.1" rx="0"/>
<text x="152.5" y="118.5" font-size="11.2" font-weight="normal" fill="#1e1e1e" text-anchor="start" textLength="20.3" lengthAdjust="spacingAndGlyphs" >CLIP</text>
<text x="125.8" y="145.5" font-size="11.2" font-weight="normal" fill="#1e1e1e" text-anchor="start" textLength="35.4" lengthAdjust="spacingAndGlyphs" >COMP2</text>
<text x="126.7" y="178" font-size="11.2" font-weight="normal" fill="#1e1e1e" text-anchor="start" textLength="19.2" lengthAdjust="spacingAndGlyphs" >IN-2</text>
<text x="126.5" y="229.6" font-size="11.2" font-weight="normal" fill="#1e1e1e" text-anchor="start" textLength="21.1" lengthAdjust="spacingAndGlyphs" >IN+2</text>
<text x="125.6" y="250.6" font-size="11.2" font-weight="normal" fill="#1e1e1e" text-anchor="start" textLength="22.4" lengthAdjust="spacingAndGlyphs" >GND</text>
<text x="126" y="303.2" font-size="11.2" font-weight="normal" fill="#1e1e1e" text-anchor="start" textLength="18" lengthAdjust="spacingAndGlyphs" >VSS</text>
<text x="126" y="326.2" font-size="11.2" font-weight="normal" fill="#1e1e1e" text-anchor="start" textLength="21" lengthAdjust="spacingAndGlyphs" >VAA</text>
<text x="126.4" y="362.5" font-size="11.2" font-weight="normal" fill="#1e1e1e" text-anchor="start" textLength="21.6" lengthAdjust="spacingAndGlyphs" >IN+1</text>
<text x="126.4" y="410.6" font-size="11.2" font-weight="normal" fill="#1e1e1e" text-anchor="start" textLength="19.6" lengthAdjust="spacingAndGlyphs" >IN-1</text>
<text x="125.6" y="436.8" font-size="11.2" font-weight="normal" fill="#1e1e1e" text-anchor="start" textLength="36.1" lengthAdjust="spacingAndGlyphs" >COMP1</text>
<text x="126.1" y="466.5" font-size="11.2" font-weight="normal" fill="#1e1e1e" text-anchor="start" textLength="18.6" lengthAdjust="spacingAndGlyphs" >CSD</text>
<text x="154.7" y="492.5" font-size="11.2" font-weight="normal" fill="#1e1e1e" text-anchor="start" textLength="29.9" lengthAdjust="spacingAndGlyphs" >FAULT</text>
<text x="539" y="211.7" font-size="11.2" font-weight="normal" fill="#1e1e1e" text-anchor="start" textLength="20.7" lengthAdjust="spacingAndGlyphs" >HO2</text>
<text x="541" y="229.7" font-size="11.2" font-weight="normal" fill="#1e1e1e" text-anchor="start" textLength="16.7" lengthAdjust="spacingAndGlyphs" >VS2</text>
<text x="538.5" y="286.6" font-size="11.2" font-weight="normal" fill="#1e1e1e" text-anchor="start" textLength="18.2" lengthAdjust="spacingAndGlyphs" >LO2</text>
<text x="539.5" y="322.4" font-size="11.2" font-weight="normal" fill="#1e1e1e" text-anchor="start" textLength="18.2" lengthAdjust="spacingAndGlyphs" >LO1</text>
<text x="539" y="357.1" font-size="11.2" font-weight="normal" fill="#1e1e1e" text-anchor="start" textLength="18" lengthAdjust="spacingAndGlyphs" >VS1</text>
<text x="539.5" y="393.4" font-size="11.2" font-weight="normal" fill="#1e1e1e" text-anchor="start" textLength="20.2" lengthAdjust="spacingAndGlyphs" >HO1</text>
<text transform="translate(498,136.9) rotate(-90)" font-size="11.8" font-weight="normal" fill="#1e1e1e" text-anchor="start" textLength="26.4" lengthAdjust="spacingAndGlyphs" >CSH2</text>
<text transform="translate(509.7,136.9) rotate(-90)" font-size="11.8" font-weight="normal" fill="#1e1e1e" text-anchor="start" textLength="19.4" lengthAdjust="spacingAndGlyphs" >VB2</text>
<text transform="translate(320.9,493.9) rotate(-90)" font-size="11.8" font-weight="normal" fill="#1e1e1e" text-anchor="start" textLength="19" lengthAdjust="spacingAndGlyphs" >VCC</text>
<text transform="translate(332.9,493.9) rotate(-90)" font-size="11.8" font-weight="normal" fill="#1e1e1e" text-anchor="start" textLength="23" lengthAdjust="spacingAndGlyphs" >COM</text>
<text transform="translate(465.2,493) rotate(-90)" font-size="11.8" font-weight="normal" fill="#1e1e1e" text-anchor="start" textLength="24.1" lengthAdjust="spacingAndGlyphs" >CSH1</text>
<text transform="translate(500.7,493.8) rotate(-90)" font-size="11.8" font-weight="normal" fill="#1e1e1e" text-anchor="start" textLength="19.2" lengthAdjust="spacingAndGlyphs" >VB1</text>
<text x="255.5" y="136" font-size="8.8" font-weight="normal" fill="#3a3a3a" text-anchor="middle" textLength="15.4" lengthAdjust="spacingAndGlyphs" >CLIP</text>
<text x="255.5" y="146" font-size="8.8" font-weight="normal" fill="#3a3a3a" text-anchor="middle" textLength="13" lengthAdjust="spacingAndGlyphs" >DET</text>
<text x="255.5" y="197.2" font-size="8.8" font-weight="normal" fill="#3a3a3a" text-anchor="middle" textLength="19" lengthAdjust="spacingAndGlyphs" >PWM</text>
<text x="255.5" y="207.2" font-size="8.8" font-weight="normal" fill="#3a3a3a" text-anchor="middle" textLength="5" lengthAdjust="spacingAndGlyphs" >2</text>
<text x="255.5" y="382.5" font-size="8.8" font-weight="normal" fill="#3a3a3a" text-anchor="middle" textLength="19" lengthAdjust="spacingAndGlyphs" >PWM</text>
<text x="255.5" y="392.1" font-size="8.8" font-weight="normal" fill="#3a3a3a" text-anchor="middle" textLength="4" lengthAdjust="spacingAndGlyphs" >1</text>
<text x="270.6" y="251.7" font-size="8.8" font-weight="normal" fill="#3a3a3a" text-anchor="middle" textLength="12" lengthAdjust="spacingAndGlyphs" >UV</text>
<text x="270.4" y="261.7" font-size="8.8" font-weight="normal" fill="#3a3a3a" text-anchor="middle" textLength="35.7" lengthAdjust="spacingAndGlyphs" >DETECT</text>
<text x="271.6" y="305.8" font-size="8.8" font-weight="normal" fill="#3a3a3a" text-anchor="middle" textLength="20" lengthAdjust="spacingAndGlyphs" >PROT</text>
<text x="271.6" y="316.8" font-size="8.8" font-weight="normal" fill="#3a3a3a" text-anchor="middle" textLength="19" lengthAdjust="spacingAndGlyphs" >CTRL</text>
<text x="356.3" y="204.2" font-size="8.8" font-weight="normal" fill="#3a3a3a" text-anchor="middle" textLength="13.6" lengthAdjust="spacingAndGlyphs" >DT2</text>
<text x="356.3" y="383.2" font-size="8.8" font-weight="normal" fill="#3a3a3a" text-anchor="middle" textLength="13.6" lengthAdjust="spacingAndGlyphs" >DT1</text>
<text x="468.1" y="142.1" font-size="8.8" font-weight="normal" fill="#3a3a3a" text-anchor="middle" textLength="20" lengthAdjust="spacingAndGlyphs" >OCH2</text>
<text x="417.1" y="220.2" font-size="8.8" font-weight="normal" fill="#3a3a3a" text-anchor="middle" textLength="18" lengthAdjust="spacingAndGlyphs" >OCL2</text>
<text x="416.7" y="325.2" font-size="8.8" font-weight="normal" fill="#3a3a3a" text-anchor="middle" textLength="17" lengthAdjust="spacingAndGlyphs" >OTP</text>
<text x="417.1" y="365" font-size="8.8" font-weight="normal" fill="#3a3a3a" text-anchor="middle" textLength="18" lengthAdjust="spacingAndGlyphs" >OCL1</text>
<text x="468.9" y="439.4" font-size="8.8" font-weight="normal" fill="#3a3a3a" text-anchor="middle" textLength="20" lengthAdjust="spacingAndGlyphs" >OCH1</text>
<text x="358.8" y="458.5" font-size="8.8" font-weight="normal" fill="#3a3a3a" text-anchor="middle" textLength="21" lengthAdjust="spacingAndGlyphs" >UVCC</text>
<text transform="translate(189.3,209) rotate(-90)" font-size="10" font-weight="normal" fill="#222" text-anchor="start" textLength="22" lengthAdjust="spacingAndGlyphs" >OTA2</text>
<text transform="translate(189.2,393.7) rotate(-90)" font-size="10" font-weight="normal" fill="#222" text-anchor="start" textLength="21.2" lengthAdjust="spacingAndGlyphs" >OTA1</text>
<text transform="translate(499,198.2) rotate(-90)" font-size="7.2" font-weight="normal" fill="#555" text-anchor="middle" textLength="10" lengthAdjust="spacingAndGlyphs" >GD</text>
<text transform="translate(454.2,272.7) rotate(-90)" font-size="7.2" font-weight="normal" fill="#555" text-anchor="middle" textLength="10" lengthAdjust="spacingAndGlyphs" >GD</text>
<text transform="translate(499.3,272.5) rotate(-90)" font-size="7.2" font-weight="normal" fill="#555" text-anchor="middle" textLength="10" lengthAdjust="spacingAndGlyphs" >GD</text>
<text transform="translate(500.2,401.8) rotate(-90)" font-size="7.2" font-weight="normal" fill="#555" text-anchor="middle" textLength="10" lengthAdjust="spacingAndGlyphs" >GD</text>
<path d="M169.8,217.3 L175.8,217.3" fill="none" stroke="#222" stroke-width="1.1" />
<path d="M172.8,214.3 L172.8,220.3" fill="none" stroke="#222" stroke-width="1.1" />
<path d="M169.9,365.7 L175.9,365.7" fill="none" stroke="#222" stroke-width="1.1" />
<path d="M172.9,362.7 L172.9,368.7" fill="none" stroke="#222" stroke-width="1.1" />
<path d="M172.4,177.3 L172.4,184" fill="none" stroke="#222" stroke-width="1.1" />
<path d="M172.4,395.7 L172.4,402.4" fill="none" stroke="#222" stroke-width="1.1" />
</svg></body></html>
